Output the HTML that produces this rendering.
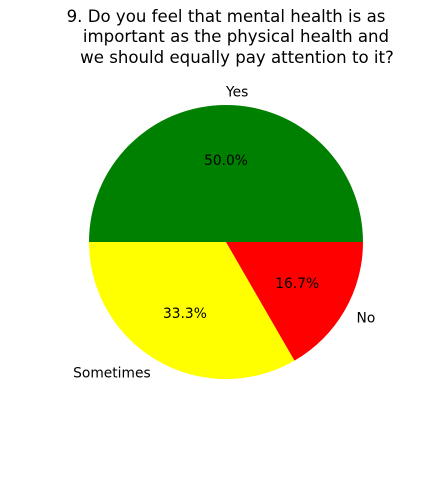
<!DOCTYPE html>
<html><head><meta charset="utf-8"><style>
body{margin:0;background:#fff;width:441px;height:480px;overflow:hidden}
text{font-family:"DejaVu Sans","Liberation Sans",sans-serif}
</style></head><body>
<svg id="chart" width="441" height="480" xmlns="http://www.w3.org/2000/svg">
<g font-size="16.6" text-anchor="middle" fill="#000">
<text x="226" y="22">9. Do you feel that mental health is as</text>
<text x="236" y="42">important as the physical health and</text>
<text x="237" y="63">we should equally pay attention to it?</text>
</g>
<g id="slices"></g>
</svg>
<script>
const categories = ["Yes", "Sometimes", "No"];
const values = [3, 2, 1];
const colors = ["#008000", "#ffff00", "#ff0000"];
const cx = 226, cy = 242, r = 137;
const g = document.getElementById('slices');
const ns = "http://www.w3.org/2000/svg";
const total = values.reduce((a, b) => a + b, 0);
let start = 0;
values.forEach((v, i) => {
  const sweep = v / total * 2 * Math.PI;
  const a0 = start, a1 = start + sweep;
  const x0 = cx + r * Math.cos(a0), y0 = cy - r * Math.sin(a0);
  const x1 = cx + r * Math.cos(a1), y1 = cy - r * Math.sin(a1);
  const large = sweep > Math.PI ? 1 : 0;
  const p = document.createElementNS(ns, 'path');
  p.setAttribute('d', `M${cx},${cy} L${x0},${y0} A${r},${r} 0 ${large} 0 ${x1},${y1} Z`);
  p.setAttribute('fill', colors[i]);
  
  
  g.appendChild(p);
  const mid = (a0 + a1) / 2;
  const lx = cx + 1.1 * r * Math.cos(mid), ly = cy - 1.1 * r * Math.sin(mid);
  const t = document.createElementNS(ns, 'text');
  t.setAttribute('x', lx);
  t.setAttribute('y', ly + 5);
  t.setAttribute('font-size', '13.8');
  const c = Math.cos(mid);
  t.setAttribute('text-anchor', c >= -1e-9 ? 'start' : 'end');
  t.textContent = categories[i];
  
  
  g.appendChild(t);
  const px = cx + 0.6 * r * Math.cos(mid), py = cy - 0.6 * r * Math.sin(mid);
  const pt = document.createElementNS(ns, 'text');
  pt.setAttribute('x', px);
  pt.setAttribute('y', py + 5);
  pt.setAttribute('font-size', '13.8');
  pt.setAttribute('text-anchor', 'middle');
  pt.textContent = (v / total * 100).toFixed(1) + '%';
  
  
  g.appendChild(pt);
  start = a1;
});
</script>
</body></html>
